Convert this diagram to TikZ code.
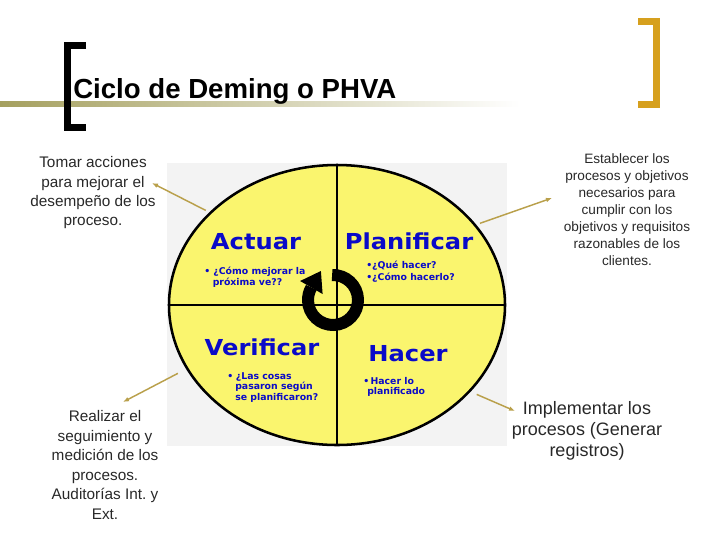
\documentclass[tikz,border=0pt]{standalone}
\usepackage{fontspec}
\setmainfont{Liberation Sans}
\newfontfamily\headfont{DejaVu Sans}
\usetikzlibrary{shapes.geometric,arrows.meta}
\definecolor{ellfill}{RGB}{250,245,110}
\definecolor{bluetxt}{RGB}{10,10,200}
\definecolor{linkcol}{RGB}{185,160,75}
\definecolor{goldbr}{RGB}{214,160,30}
\definecolor{olivebar}{RGB}{165,160,95}
\definecolor{graybg}{RGB}{243,243,243}
\definecolor{sidetxt}{RGB}{40,40,40}
\tikzset{
  heading/.style={anchor=base, inner sep=0, text=bluetxt, font=\headfont\bfseries\fontsize{16.5}{18}\selectfont},
  smalltxt/.style={anchor=base west, inner sep=0, text=bluetxt, font=\headfont\bfseries\fontsize{7}{8}\selectfont},
  sidetext/.style={align=center, inner sep=0, text=sidetxt},
  link/.style={draw=linkcol, line width=1.1pt, -{Latex[length=4.5pt,width=3.5pt]}},
  bracket/.style={line width=5.25pt, line cap=butt, line join=miter},
}
\begin{document}
\begin{tikzpicture}[x=0.75pt,y=-0.75pt]
\path[use as bounding box] (0,0) rectangle (720,540);

% title area
\fill[left color=olivebar, right color=white] (0,101) rectangle (520,106);
\draw[bracket, black] (86,45.5) -- (67.5,45.5) -- (67.5,127.5) -- (86,127.5);
\draw[bracket, goldbr] (638,21.5) -- (656.5,21.5) -- (656.5,104.5) -- (638,104.5);
\node[anchor=base west, inner sep=0, font=\bfseries\fontsize{20.7}{24}\selectfont] (title) at (73,98) {Ciclo de Deming o PHVA};

% cycle picture
\fill[graybg] (167,163) rectangle (507,446);
\node[ellipse, draw=black, line width=1.9pt, fill=ellfill, minimum width=252pt, minimum height=210pt, inner sep=0] (cyc) at (337,305) {};
\draw[line width=1.5pt] (cyc.west) -- (cyc.east);
\draw[line width=1.5pt] (cyc.north) -- (cyc.south);

% circular arrow
\draw[line width=9pt] (333,300) ++(-92:25) arc[start angle=-92, end angle=210, radius=25];
\fill (322.6,294) -- (320.9,271) -- (300.1,281) -- cycle;

% headings
\node[heading] (act) at (256,249) {\scalebox{1.1}[1]{Actuar}};
\node[heading] (pla) at (409,249) {\scalebox{1.1}[1]{Planificar}};
\node[heading] (ver) at (262,355) {\scalebox{1.1}[1]{Verificar}};
\node[heading] (hac) at (408,361) {\scalebox{1.1}[1]{Hacer}};

% small texts
\node[smalltxt] (a1) at (204,274) {\textbullet\ ¿Cómo mejorar la};
\node[smalltxt] (a2) at (212.5,285) {próxima ve??};
\node[smalltxt] (p1) at (366,268) {\textbullet¿Qué hacer?};
\node[smalltxt] (p2) at (366,280.5) {\textbullet¿Cómo hacerlo?};
\node[smalltxt] (v1) at (227,379.5) {\textbullet\hspace{2pt}¿Las cosas};
\node[smalltxt] (v2) at (235,389.5) {pasaron según};
\node[smalltxt] (v3) at (235,400) {se planificaron?};
\node[smalltxt] (h1) at (363,384) {\textbullet\hspace{1pt}Hacer lo};
\node[smalltxt] (h2) at (367,394) {planificado};

% side texts
\node[sidetext, font=\fontsize{11.5}{14.5}\selectfont] (tl) at (93,193) {Tomar acciones\\para mejorar el\\desempeño de los\\proceso.};
\node[sidetext, font=\fontsize{10.2}{12.75}\selectfont] (tr) at (627,210) {Establecer los\\procesos y objetivos\\necesarios para\\cumplir con los\\objetivos y requisitos\\razonables de los\\clientes.};
\node[sidetext, font=\fontsize{11.5}{14.7}\selectfont] (bl) at (105,465) {Realizar el\\seguimiento y\\medición de los\\procesos.\\Auditorías Int.\ y\\Ext.};
\node[sidetext, font=\fontsize{13.5}{16}\selectfont] (br) at (587,431) {Implementar los\\procesos (Generar\\registros)};

% connectors
\coordinate (tlEnd) at (152,183);
\coordinate (trEnd) at (552,198);
\coordinate (blEnd) at (123,402);
\coordinate (brEnd) at (515,411);
\draw[link, shorten <=3pt] (cyc.144) -- (tlEnd);
\draw[link, shorten <=3pt] (cyc.30) -- (trEnd);
\draw[link, shorten <=7pt] (cyc.203) -- (blEnd);
\draw[link, shorten <=5pt] (cyc.-33) -- (brEnd);
\end{tikzpicture}
\end{document}
